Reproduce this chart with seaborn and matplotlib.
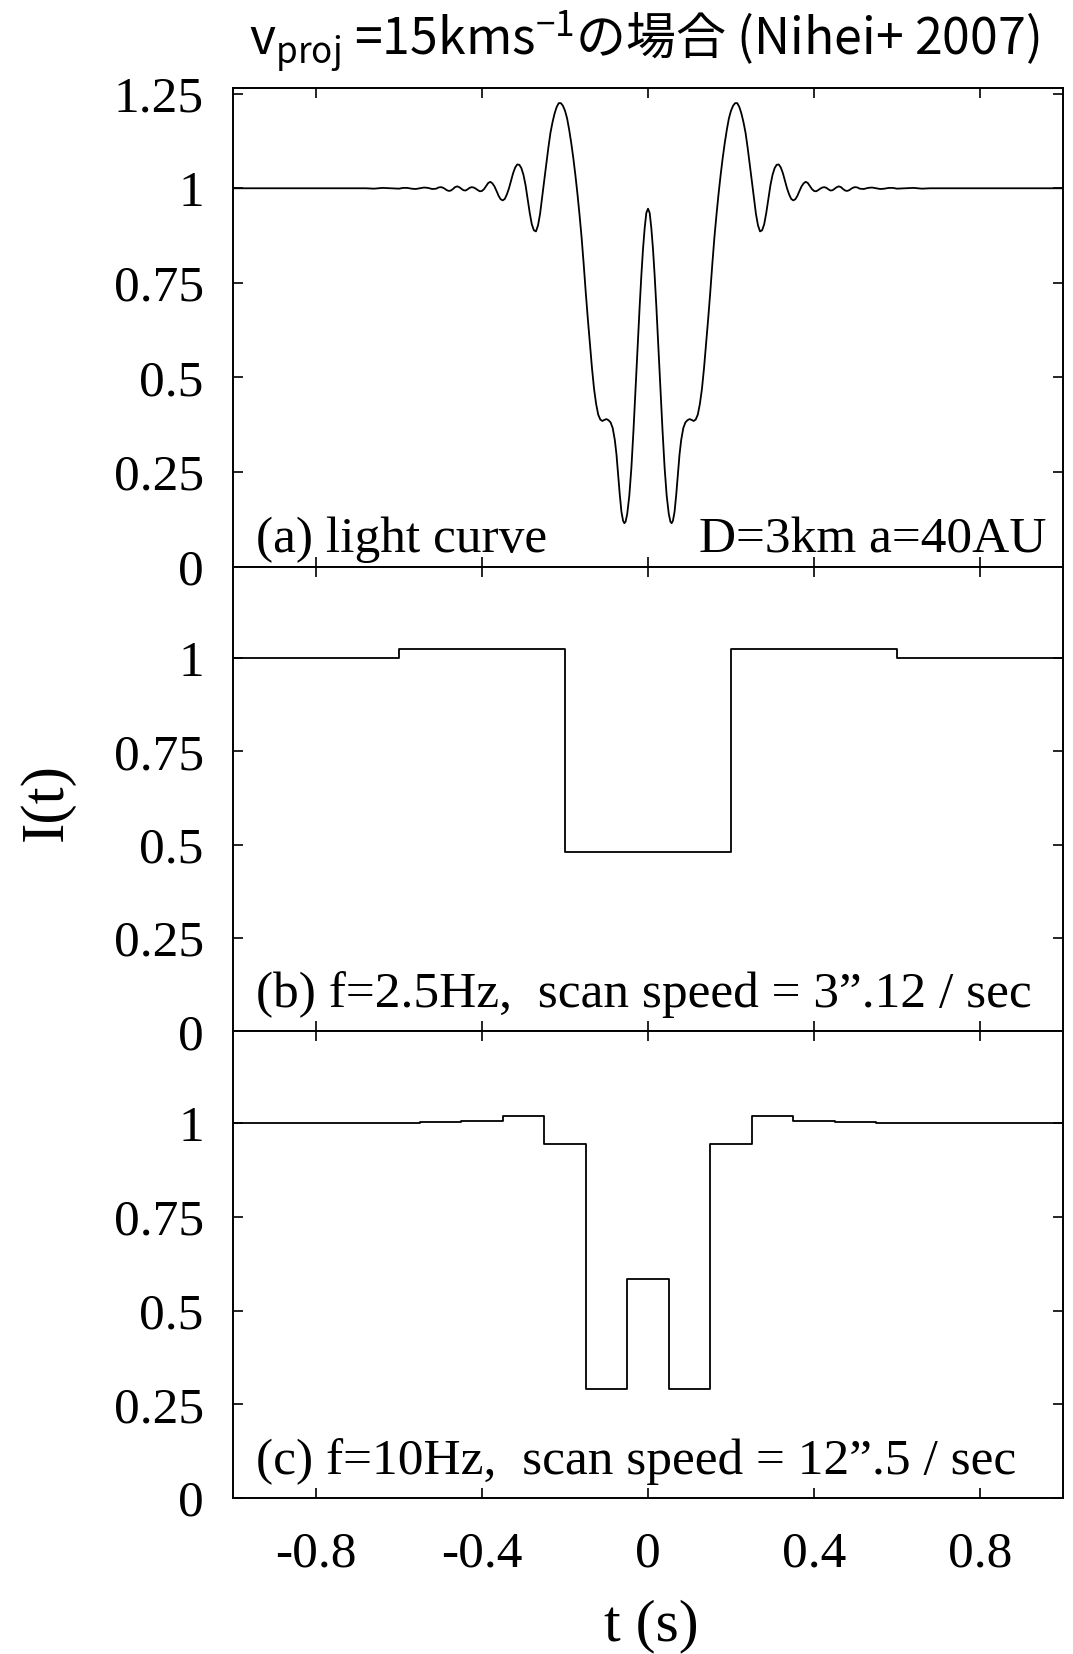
import matplotlib
matplotlib.use("Agg")
import matplotlib.pyplot as plt
import seaborn as sns
import pandas as pd

# ---------------------------------------------------------------- data
# (a) diffraction light curve, left and right halves (t in s, normalised flux)
t_left = [-1.000, -0.850, -0.750, -0.680, -0.660, -0.640, -0.620, -0.600, -0.590,
          -0.580, -0.570, -0.560, -0.550, -0.540, -0.530, -0.520, -0.510, -0.505,
          -0.500, -0.495, -0.490, -0.485, -0.480, -0.475, -0.470, -0.465, -0.460,
          -0.455, -0.450, -0.445, -0.440, -0.435, -0.430, -0.425, -0.420, -0.415,
          -0.410, -0.405, -0.400, -0.395, -0.390, -0.385, -0.380, -0.375, -0.370,
          -0.365, -0.360, -0.355, -0.350, -0.345, -0.340, -0.335, -0.330, -0.325,
          -0.320, -0.315, -0.310, -0.305, -0.300, -0.295, -0.290, -0.285, -0.280,
          -0.275, -0.270, -0.265, -0.260, -0.255, -0.250, -0.245, -0.240, -0.235,
          -0.230, -0.225, -0.220, -0.215, -0.210, -0.205, -0.200, -0.195, -0.190,
          -0.185, -0.180, -0.175, -0.170, -0.165, -0.160, -0.155, -0.150, -0.145,
          -0.140, -0.135, -0.130, -0.125, -0.120, -0.115, -0.110, -0.105, -0.100,
          -0.095, -0.090, -0.085, -0.080, -0.076, -0.072, -0.068, -0.064, -0.060,
          -0.057, -0.054, -0.050, -0.045, -0.040, -0.035, -0.030, -0.025, -0.020,
          -0.016, -0.012, -0.008, -0.004]
I_left = [1.000, 1.000, 1.000, 1.000, 0.999, 1.001, 1.000, 0.999, 1.001,
          1.001, 0.999, 0.998, 1.000, 1.002, 1.001, 0.998, 0.999, 1.002,
          1.003, 1.002, 0.999, 0.995, 0.993, 0.994, 0.998, 1.003, 1.005,
          1.003, 0.999, 0.995, 0.994, 0.997, 1.001, 1.003, 1.002, 0.999,
          0.995, 0.992, 0.993, 0.998, 1.006, 1.014, 1.017, 1.013, 1.005,
          0.993, 0.980, 0.971, 0.968, 0.972, 0.984, 1.000, 1.020, 1.040,
          1.055, 1.063, 1.062, 1.053, 1.035, 1.008, 0.972, 0.935, 0.905,
          0.889, 0.886, 0.902, 0.933, 0.976, 1.021, 1.065, 1.108, 1.147,
          1.175, 1.198, 1.215, 1.225, 1.225, 1.218, 1.205, 1.185, 1.155,
          1.120, 1.080, 1.035, 0.985, 0.930, 0.870, 0.800, 0.725, 0.655,
          0.590, 0.525, 0.470, 0.430, 0.402, 0.389, 0.385, 0.388, 0.390,
          0.387, 0.381, 0.366, 0.335, 0.297, 0.245, 0.190, 0.145, 0.121,
          0.115, 0.119, 0.140, 0.188, 0.262, 0.360, 0.470, 0.580, 0.690,
          0.770, 0.840, 0.895, 0.935]
t_right = [0.000, 0.004, 0.008, 0.012, 0.016, 0.020, 0.025, 0.030, 0.035,
           0.040, 0.045, 0.050, 0.054, 0.057, 0.060, 0.064, 0.068, 0.072,
           0.076, 0.080, 0.085, 0.090, 0.095, 0.100, 0.105, 0.110, 0.115,
           0.120, 0.125, 0.130, 0.135, 0.140, 0.145, 0.150, 0.155, 0.160,
           0.165, 0.170, 0.175, 0.180, 0.185, 0.190, 0.195, 0.200, 0.205,
           0.210, 0.215, 0.220, 0.225, 0.230, 0.235, 0.240, 0.245, 0.250,
           0.255, 0.260, 0.265, 0.270, 0.275, 0.280, 0.285, 0.290, 0.295,
           0.300, 0.305, 0.310, 0.315, 0.320, 0.325, 0.330, 0.335, 0.340,
           0.345, 0.350, 0.355, 0.360, 0.365, 0.370, 0.375, 0.380, 0.385,
           0.390, 0.395, 0.400, 0.405, 0.410, 0.415, 0.420, 0.425, 0.430,
           0.435, 0.440, 0.445, 0.450, 0.455, 0.460, 0.465, 0.470, 0.475,
           0.480, 0.485, 0.490, 0.495, 0.500, 0.505, 0.510, 0.520, 0.530,
           0.540, 0.550, 0.560, 0.570, 0.580, 0.590, 0.600, 0.620, 0.640,
           0.660, 0.680, 0.750, 0.850, 1.000]
I_right = [0.946, 0.935, 0.895, 0.840, 0.770, 0.690, 0.580, 0.470, 0.360,
           0.262, 0.188, 0.140, 0.119, 0.115, 0.121, 0.145, 0.190, 0.245,
           0.297, 0.335, 0.366, 0.381, 0.387, 0.390, 0.388, 0.385, 0.389,
           0.402, 0.430, 0.470, 0.525, 0.590, 0.655, 0.725, 0.800, 0.870,
           0.930, 0.985, 1.035, 1.080, 1.120, 1.155, 1.185, 1.205, 1.218,
           1.225, 1.225, 1.215, 1.198, 1.175, 1.147, 1.108, 1.065, 1.021,
           0.976, 0.933, 0.902, 0.886, 0.889, 0.905, 0.935, 0.972, 1.008,
           1.035, 1.053, 1.062, 1.063, 1.055, 1.040, 1.020, 1.000, 0.984,
           0.972, 0.968, 0.971, 0.980, 0.993, 1.005, 1.013, 1.017, 1.014,
           1.006, 0.998, 0.993, 0.992, 0.995, 0.999, 1.002, 1.003, 1.001,
           0.997, 0.994, 0.995, 0.999, 1.003, 1.005, 1.003, 0.998, 0.994,
           0.993, 0.995, 0.999, 1.002, 1.003, 1.002, 0.999, 0.998, 1.001,
           1.002, 1.000, 0.998, 0.999, 1.001, 1.001, 0.999, 1.000, 1.001,
           0.999, 1.000, 1.000, 1.000, 1.000]

# (b) 2.5 Hz sampling: bin edges and binned flux
edges_b = [-1.0, -0.6, -0.2, 0.2, 0.6, 1.0]
flux_b = [1.000, 1.024, 0.481, 1.024, 1.000]

# (c) 10 Hz sampling: bin edges and binned flux
edges_c = [-1.0, -0.95, -0.85, -0.75, -0.65, -0.55, -0.45, -0.35, -0.25, -0.15, -0.05,
           0.05, 0.15, 0.25, 0.35, 0.45, 0.55, 0.65, 0.75, 0.85, 0.95, 1.0]
flux_c = [1.000, 1.000, 1.000, 1.0005, 1.001, 1.002, 1.005, 1.018, 0.944, 0.292, 0.585,
          0.292, 0.944, 1.018, 1.005, 1.002, 1.001, 1.0005, 1.000, 1.000, 1.000]

x_ticks = [-0.8, -0.4, 0.0, 0.4, 0.8]
x_ticklabels = ["-0.8", "-0.4", "0", "0.4", "0.8"]
y_ticks_a = [0, 0.25, 0.5, 0.75, 1.0, 1.25]
y_ticklabels_a = ["0", "0.25", "0.5", "0.75", "1", "1.25"]
y_ticks_bc = [0, 0.25, 0.5, 0.75, 1.0]
y_ticklabels_bc = ["0", "0.25", "0.5", "0.75", "1"]

panel_text = ["(a) light curve",
              "(b) f=2.5Hz,  scan speed = 3\u201d.12 / sec",
              "(c) f=10Hz,  scan speed = 12\u201d.5 / sec"]
param_text = "D=3km a=40AU"
title_text = r"$\mathregular{v_{proj}}$ =15kms$\mathregular{^{-1}}$の場合 (Nihei+ 2007)"

# ---------------------------------------------------------------- style
sns.set_style("ticks")
serif = ["Liberation Serif", "DejaVu Serif"]
plt.rcParams["font.family"] = serif
plt.rcParams["axes.unicode_minus"] = False
plt.rcParams["axes.linewidth"] = 1.4

W, H = 1073, 1654
fig = plt.figure(figsize=(W / 100, H / 100), dpi=100)
gs = fig.add_gridspec(3, 1, left=233 / W, right=1063 / W, top=1 - 88 / H,
                      bottom=1 - 1498 / H, hspace=0, height_ratios=[478, 464, 466])
axes = [fig.add_subplot(gs[i]) for i in range(3)]

curve = pd.DataFrame({"t": t_left + t_right, "I": I_left + I_right})
sns.lineplot(data=curve, x="t", y="I", ax=axes[0], color="black", lw=1.3,
             estimator=None, sort=True)

for ax, edges, flux in [(axes[1], edges_b, flux_b), (axes[2], edges_c, flux_c)]:
    steps = pd.DataFrame({"t": edges, "I": flux + [flux[-1]]})
    sns.lineplot(data=steps, x="t", y="I", ax=ax, color="black", lw=1.3,
                 estimator=None, sort=False, drawstyle="steps-post")

for i, ax in enumerate(axes):
    ax.set_xlim(-1.0, 1.0)
    ax.set_xticks(x_ticks)
    if i == 0:
        ax.set_ylim(0, 1.265)
        ax.set_yticks(y_ticks_a)
        ax.set_yticklabels(y_ticklabels_a)
    else:
        ax.set_ylim(0, 1.245)
        ax.set_yticks(y_ticks_bc)
        ax.set_yticklabels(y_ticklabels_bc)
    if i == 2:
        ax.set_xticklabels(x_ticklabels)
    else:
        ax.set_xticklabels([])
    ax.tick_params(axis="both", which="major", direction="in", top=True, right=True,
                   length=7, width=1.2, labelsize=37, colors="black")
    ax.tick_params(axis="y", pad=21)
    ax.tick_params(axis="x", pad=24)
    ax.set_xlabel("")
    ax.set_ylabel("")
    for sp in ax.spines.values():
        sp.set_visible(True)
        sp.set_color("black")
        sp.set_linewidth(1.4)
    ax.text(0.028, 0.03 if i == 0 else 0.052, panel_text[i], transform=ax.transAxes,
            fontsize=37, ha="left", va="baseline", color="black")

axes[0].text(0.98, 0.03, param_text, transform=axes[0].transAxes, fontsize=37,
             ha="right", va="baseline", color="black")

fig.text(47 / W, 1 - 802 / H, "I(t)", rotation=90, ha="center", va="center",
         fontsize=44, color="black")
fig.text(651 / W, 1 - 1626 / H, "t (s)", ha="center", va="center",
         fontsize=43, color="black")
fig.text(644 / W, 1 - 54 / H, title_text, ha="center", va="baseline",
         fontsize=36, color="black", family=["Noto Sans CJK JP"])

fig.savefig("out.png", dpi=100)
